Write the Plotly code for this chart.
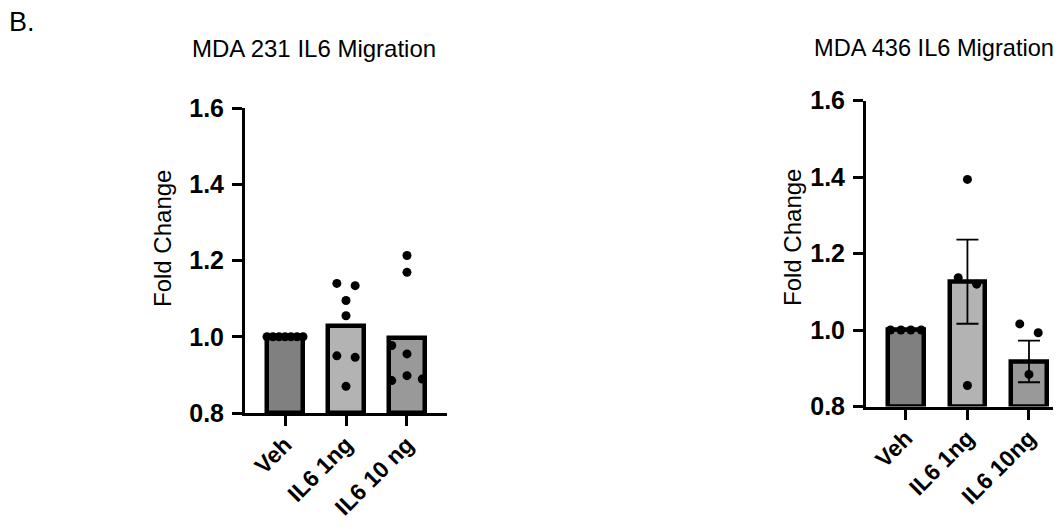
import numpy as np
import plotly.graph_objects as go

# ---------------- data ----------------
categories_231 = ["Veh", "IL6 1ng", "IL6 10 ng"]
veh_231 = [1.0, 1.0, 1.0, 1.0, 1.0, 1.0, 1.0]
il6_1ng_231 = [1.140, 1.134, 1.095, 1.055, 0.950, 0.946, 0.870]
il6_10ng_231 = [1.213, 1.169, 0.977, 0.955, 0.898, 0.885, 0.889]

categories_436 = ["Veh", "IL6 1ng", "IL6 10ng"]
veh_436 = [1.0, 1.0, 1.0, 1.0]
il6_1ng_436 = [1.394, 1.137, 1.120, 0.855]
il6_10ng_436 = [1.016, 0.993, 0.884, 0.779]

y_ticks = [0.8, 1.0, 1.2, 1.4, 1.6]
title_231 = "MDA 231 IL6 Migration"
title_436 = "MDA 436 IL6 Migration"
panel_label = "B."
y_title = "Fold Change"

# ---------------- styling (point spread within each bar, in category units) ----------------
spread_231 = [
    [-0.295, -0.197, -0.098, 0.0, 0.098, 0.197, 0.295],
    [-0.15, 0.15, 0.0, 0.0, -0.15, 0.15, 0.0],
    [0.0, 0.0, -0.25, 0.0, 0.0, -0.25, 0.25],
]
spread_436 = [
    [-0.25, -0.08, 0.08, 0.25],
    [0.0, -0.15, 0.15, 0.0],
    [-0.15, 0.15, 0.0, 0.0],
]
bar_colors = ["#808080", "#b3b3b3", "#999999"]

W, H = 1061, 529
OFF = 8  # page body margin offset
FONT = "Liberation Sans, Arial, Helvetica, sans-serif"


def px(x):
    return (x - OFF) / W


def py(y):
    return 1 - (y - OFF) / H


fig = go.Figure()


def add_panel(groups, spreads, cats, xa, ya, show_err):
    means = [float(np.mean(g)) for g in groups]
    sems = [float(np.std(g, ddof=1) / np.sqrt(len(g))) for g in groups]
    idx = list(range(len(cats)))
    fig.add_trace(go.Bar(
        x=idx, y=[m - 0.8 for m in means], base=0.8,
        width=0.58,
        marker=dict(color=bar_colors, line=dict(color="black", width=4.5)),
        error_y=dict(type="data", array=sems, visible=show_err,
                     color="black", thickness=1.8, width=11),
        xaxis=xa, yaxis=ya, showlegend=False, hoverinfo="skip",
    ))
    for i, (g, s) in enumerate(zip(groups, spreads)):
        fig.add_trace(go.Scatter(
            x=[i + o for o in s], y=g, mode="markers",
            marker=dict(color="black", size=9),
            xaxis=xa, yaxis=ya, showlegend=False, cliponaxis=True,
        ))


add_panel([veh_231, il6_1ng_231, il6_10ng_231], spread_231, categories_231, "x", "y", False)
add_panel([veh_436, il6_1ng_436, il6_10ng_436], spread_436, categories_436, "x2", "y2", True)

ytickfont = dict(family=FONT, size=25, color="black", weight="bold")
xtickfont = dict(family=FONT, size=23, color="black", weight="bold")
common_x = dict(showline=True, linecolor="black", linewidth=3, ticks="outside",
                ticklen=10, tickwidth=3, tickcolor="black", tickangle=-45,
                tickfont=xtickfont, showgrid=False, zeroline=False, tickmode="array",
                automargin=False, ticklabelstandoff=-4)
common_y = dict(showline=True, linecolor="black", linewidth=3, ticks="outside",
                ticklen=10, tickwidth=3, tickcolor="black", tickfont=ytickfont,
                showgrid=False, zeroline=False, range=[0.8, 1.6], tickmode="array",
                tickvals=y_ticks, ticktext=[f"{v:.1f}" for v in y_ticks],
                automargin=False, ticklabelstandoff=3)

ann_font = dict(family=FONT, size=24, color="black")
fig.update_layout(
    template="none",
    width=W, height=H,
    margin=dict(l=0, r=0, t=0, b=0, autoexpand=False),
    paper_bgcolor="white", plot_bgcolor="white",
    bargap=0,
    xaxis=dict(common_x, domain=[px(245), px(447)], range=[-0.656, 2.656],
               tickvals=[0, 1, 2], ticktext=categories_231, anchor="y"),
    yaxis=dict(common_y, domain=[py(413), py(108)], anchor="x"),
    xaxis2=dict(common_x, domain=[px(866), 1.0], range=[-0.648, 2.65],
                tickvals=[0, 1, 2], ticktext=categories_436, anchor="y2"),
    yaxis2=dict(common_y, domain=[py(406.5), py(100.7)], anchor="x2"),
    annotations=[
        dict(text=panel_label, x=px(7), y=py(5), xref="paper", yref="paper",
             xanchor="left", yanchor="top", showarrow=False,
             font=dict(family=FONT, size=27, color="black")),
        dict(text=title_231, x=px(314), y=py(48), xref="paper", yref="paper",
             xanchor="center", yanchor="middle", showarrow=False, font=ann_font),
        dict(text=title_436, x=px(934), y=py(48), xref="paper", yref="paper",
             xanchor="center", yanchor="middle", showarrow=False,
             font=dict(family=FONT, size=23.6, color="black")),
        dict(text=y_title, x=px(163), y=py(239), xref="paper", yref="paper",
             xanchor="center", yanchor="middle", showarrow=False, textangle=-90,
             font=ann_font),
        dict(text=y_title, x=px(793), y=py(238), xref="paper", yref="paper",
             xanchor="center", yanchor="middle", showarrow=False, textangle=-90,
             font=ann_font),
    ],
)

fig.write_html("out.html")
